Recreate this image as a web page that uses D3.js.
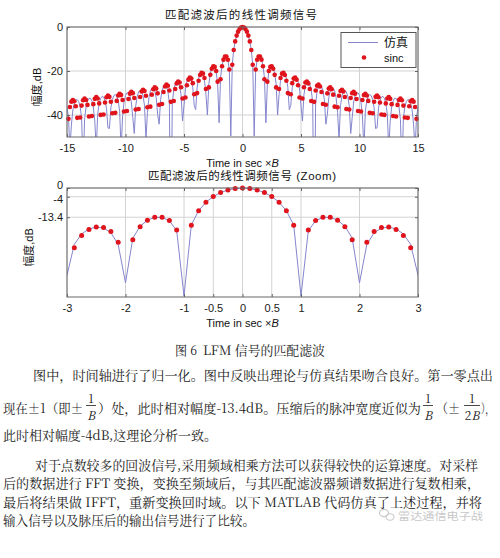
<!DOCTYPE html>
<html><head><meta charset="utf-8">
<script src="https://cdn.jsdelivr.net/npm/d3@7"></script>
<style>body{margin:0;background:#fff}svg{display:block}</style>
</head><body>
<svg id="c" width="500" height="558"></svg>
<script>
// normalized time (t × B), sample grid
const timeB = [
-15,-14.875,-14.75,-14.625,-14.5,-14.375,-14.25,-14.125,
-14,-13.875,-13.75,-13.625,-13.5,-13.375,-13.25,-13.125,
-13,-12.875,-12.75,-12.625,-12.5,-12.375,-12.25,-12.125,
-12,-11.875,-11.75,-11.625,-11.5,-11.375,-11.25,-11.125,
-11,-10.875,-10.75,-10.625,-10.5,-10.375,-10.25,-10.125,
-10,-9.875,-9.75,-9.625,-9.5,-9.375,-9.25,-9.125,
-9,-8.875,-8.75,-8.625,-8.5,-8.375,-8.25,-8.125,
-8,-7.875,-7.75,-7.625,-7.5,-7.375,-7.25,-7.125,
-7,-6.875,-6.75,-6.625,-6.5,-6.375,-6.25,-6.125,
-6,-5.875,-5.75,-5.625,-5.5,-5.375,-5.25,-5.125,
-5,-4.875,-4.75,-4.625,-4.5,-4.375,-4.25,-4.125,
-4,-3.875,-3.75,-3.625,-3.5,-3.375,-3.25,-3.125,
-3,-2.875,-2.75,-2.625,-2.5,-2.375,-2.25,-2.125,
-2,-1.875,-1.75,-1.625,-1.5,-1.375,-1.25,-1.125,
-1,-0.875,-0.75,-0.625,-0.5,-0.375,-0.25,-0.125,
0,
0.125,0.25,0.375,0.5,0.625,0.75,0.875,1,
1.125,1.25,1.375,1.5,1.625,1.75,1.875,2,
2.125,2.25,2.375,2.5,2.625,2.75,2.875,3,
3.125,3.25,3.375,3.5,3.625,3.75,3.875,4,
4.125,4.25,4.375,4.5,4.625,4.75,4.875,5,
5.125,5.25,5.375,5.5,5.625,5.75,5.875,6,
6.125,6.25,6.375,6.5,6.625,6.75,6.875,7,
7.125,7.25,7.375,7.5,7.625,7.75,7.875,8,
8.125,8.25,8.375,8.5,8.625,8.75,8.875,9,
9.125,9.25,9.375,9.5,9.625,9.75,9.875,10,
10.125,10.25,10.375,10.5,10.625,10.75,10.875,11,
11.125,11.25,11.375,11.5,11.625,11.75,11.875,12,
12.125,12.25,12.375,12.5,12.625,12.75,12.875,13,
13.125,13.25,13.375,13.5,13.625,13.75,13.875,14,
14.125,14.25,14.375,14.5,14.625,14.75,14.875,15
];
// simulated matched-filter output, dB (仿真)
const simDB = [
-36.47,-40.96,-55.50,-44.53,-37.75,-34.68,-33.25,-33.01,
-33.92,-36.28,-41.40,-66.84,-42.15,-36.34,-33.61,-32.42,
-32.40,-33.57,-36.37,-42.72,-55.57,-39.48,-34.71,-32.42,
-31.54,-31.83,-33.40,-36.91,-45.82,-46.15,-36.75,-32.97,
-31.18,-30.69,-31.38,-33.52,-38.23,-56.13,-40.34,-34.07,
-31.19,-29.94,-29.92,-31.15,-34.14,-41.26,-48.41,-35.87,
-31.53,-29.46,-28.78,-29.32,-31.30,-35.75,-51.05,-38.77,
-32.14,-29.14,-27.84,-27.79,-29.05,-32.16,-39.81,-44.17,
-33.03,-28.90,-26.95,-26.39,-27.08,-29.34,-34.56,-100,
-34.19,-28.61,-26.00,-24.96,-25.19,-26.85,-30.78,-42.75,
-35.66,-28.16,-24.86,-23.37,-23.20,-24.39,-27.53,-35.69,
-37.55,-27.34,-23.33,-21.42,-20.90,-21.70,-24.27,-30.70,
-40.02,-25.84,-21.10,-18.78,-17.92,-18.38,-20.48,-25.90,
-43.52,-23.01,-17.54,-14.75,-13.47,-13.47,-15.03,-19.59,
-49.54,-16.96,-10.40,-6.53,-3.92,-2.12,-0.92,-0.23,
0,
-0.23,-0.92,-2.12,-3.92,-6.53,-10.40,-16.96,-49.54,
-19.59,-15.03,-13.47,-13.47,-14.75,-17.54,-23.01,-43.52,
-25.90,-20.48,-18.38,-17.92,-18.78,-21.10,-25.84,-40.02,
-30.70,-24.27,-21.70,-20.90,-21.42,-23.33,-27.34,-37.55,
-35.69,-27.53,-24.39,-23.20,-23.37,-24.86,-28.16,-35.66,
-42.75,-30.78,-26.85,-25.19,-24.96,-26.00,-28.61,-34.19,
-100,-34.56,-29.34,-27.08,-26.39,-26.95,-28.90,-33.03,
-44.17,-39.81,-32.16,-29.05,-27.79,-27.84,-29.14,-32.14,
-38.77,-51.05,-35.75,-31.30,-29.32,-28.78,-29.46,-31.53,
-35.87,-48.41,-41.26,-34.14,-31.15,-29.92,-29.94,-31.19,
-34.07,-40.34,-56.13,-38.23,-33.52,-31.38,-30.69,-31.18,
-32.97,-36.75,-46.15,-45.82,-36.91,-33.40,-31.83,-31.54,
-32.42,-34.71,-39.48,-55.57,-42.72,-36.37,-33.57,-32.40,
-32.42,-33.61,-36.34,-42.15,-66.84,-41.40,-36.28,-33.92,
-33.01,-33.25,-34.68,-37.75,-44.53,-55.50,-40.96,-36.47
];
// sinc reference, dB (null where below the axis)
const sincDB = [
null,-41.74,-36.33,-33.93,-33.17,-33.78,-36.03,-41.29,
null,-41.13,-35.72,-33.32,-32.55,-33.16,-35.40,-40.65,
null,-40.48,-35.06,-32.66,-31.88,-32.48,-34.72,-39.96,
null,-39.78,-34.35,-31.94,-31.16,-31.75,-33.98,-39.21,
null,-39.02,-33.58,-31.16,-30.37,-30.95,-33.17,-38.39,
null,-38.18,-32.73,-30.30,-29.50,-30.07,-32.28,-37.49,
null,-37.25,-31.79,-29.35,-28.53,-29.09,-31.28,-36.48,
null,-36.21,-30.74,-28.28,-27.44,-27.99,-30.16,-35.34,
null,-35.03,-29.54,-27.06,-26.20,-26.72,-28.87,-34.03,
null,-33.67,-28.15,-25.63,-24.75,-25.24,-27.36,-32.48,
null,-32.05,-26.49,-23.93,-23.01,-23.45,-25.52,-30.59,
null,-30.05,-24.43,-21.82,-20.82,-21.20,-23.19,-28.18,
null,-27.46,-21.74,-19.01,-17.90,-18.14,-20.00,-24.83,
null,-23.75,-17.81,-14.85,-13.47,-13.40,-14.89,-19.31,
null,-17.13,-10.45,-6.55,-3.92,-2.11,-0.91,-0.22,
0,
-0.22,-0.91,-2.11,-3.92,-6.55,-10.45,-17.13,null,
-19.31,-14.89,-13.40,-13.47,-14.85,-17.81,-23.75,null,
-24.83,-20.00,-18.14,-17.90,-19.01,-21.74,-27.46,null,
-28.18,-23.19,-21.20,-20.82,-21.82,-24.43,-30.05,null,
-30.59,-25.52,-23.45,-23.01,-23.93,-26.49,-32.05,null,
-32.48,-27.36,-25.24,-24.75,-25.63,-28.15,-33.67,null,
-34.03,-28.87,-26.72,-26.20,-27.06,-29.54,-35.03,null,
-35.34,-30.16,-27.99,-27.44,-28.28,-30.74,-36.21,null,
-36.48,-31.28,-29.09,-28.53,-29.35,-31.79,-37.25,null,
-37.49,-32.28,-30.07,-29.50,-30.30,-32.73,-38.18,null,
-38.39,-33.17,-30.95,-30.37,-31.16,-33.58,-39.02,null,
-39.21,-33.98,-31.75,-31.16,-31.94,-34.35,-39.78,null,
-39.96,-34.72,-32.48,-31.88,-32.66,-35.06,-40.48,null,
-40.65,-35.40,-33.16,-32.55,-33.32,-35.72,-41.13,null,
-41.29,-36.03,-33.78,-33.17,-33.93,-36.33,-41.74,null
];
const topXTicks = [-15,-10,-5,0,5,10,15];
const topYTicks = [-40,-20,0];
const zoomXTicks = [-3,-2,-1,-0.5,0,0.5,1,2,3];
const zoomYTicks = [-13.4,-4,0];
const yDomain = [-50,0];
const titleTop = "匹配滤波后的线性调频信号";
const titleZoom = "匹配滤波后的线性调频信号 (Zoom)";
const yLabel = "幅度,dB";
const seriesNames = ["仿真","sinc"];

const svg = d3.select("#c");
const SANS = "'Liberation Sans', Arial, 'Noto Sans CJK SC', sans-serif";
const SERIF = "'Noto Serif CJK SC', 'Liberation Serif', 'Noto Sans CJK SC', serif";
const FRAME = "#666";
const GRID = "#d2d2d2";
const LINEC = "#8585cf";
const DOTC = "#e0141c";
const L = 67, R = 418;

function panel(cfg){
  const x = d3.scaleLinear().domain(cfg.xDomain).range([L,R]);
  const y = d3.scaleLinear().domain(yDomain).range([cfg.bottom,cfg.top]);
  const g = svg.append("g");
  const clipId = "clip"+cfg.id;
  g.append("clipPath").attr("id",clipId).append("rect")
    .attr("x",L).attr("y",cfg.top).attr("width",R-L).attr("height",cfg.bottom-cfg.top);
  // grid
  g.append("g").selectAll("line").data(cfg.xTicks).join("line")
    .attr("x1",d=>x(d)).attr("x2",d=>x(d)).attr("y1",cfg.top).attr("y2",cfg.bottom)
    .attr("stroke",GRID).attr("stroke-width",1);
  g.append("g").selectAll("line").data(cfg.yTicks).join("line")
    .attr("y1",d=>y(d)).attr("y2",d=>y(d)).attr("x1",L).attr("x2",R)
    .attr("stroke",GRID).attr("stroke-width",1);
  // data
  const idx = d3.range(timeB.length).filter(i=>timeB[i]>=cfg.xDomain[0]&&timeB[i]<=cfg.xDomain[1]);
  const line = d3.line().x(i=>x(timeB[i])).y(i=>y(simDB[i]));
  g.append("path").attr("clip-path",`url(#${clipId})`).attr("d",line(idx))
    .attr("fill","none").attr("stroke",LINEC).attr("stroke-width",1);
  g.append("g").selectAll("circle")
    .data(idx.filter(i=>sincDB[i]!==null&&sincDB[i]>=yDomain[0]))
    .join("circle").attr("cx",i=>x(timeB[i])).attr("cy",i=>y(sincDB[i]))
    .attr("r",cfg.r).attr("fill",DOTC);
  // frame
  g.append("rect").attr("x",L).attr("y",cfg.top).attr("width",R-L).attr("height",cfg.bottom-cfg.top)
    .attr("fill","none").attr("stroke",FRAME).attr("stroke-width",1);
  const fmt = d=>String(d);
  const styleAxis = a=>{a.select(".domain").remove();
    a.selectAll(".tick line").attr("stroke",FRAME);
    a.selectAll(".tick text").attr("fill","#1a1a1a").style("font-family",SANS).style("font-size","11px");};
  g.append("g").attr("transform",`translate(0,${cfg.bottom})`)
    .call(d3.axisBottom(x).tickValues(cfg.xTicks).tickFormat(fmt).tickSize(-3).tickPadding(7)).call(styleAxis);
  g.append("g").attr("transform",`translate(0,${cfg.top})`)
    .call(d3.axisTop(x).tickValues(cfg.xTicks).tickFormat("").tickSize(-3)).call(styleAxis);
  const ya = g.append("g").attr("transform",`translate(${L},0)`)
    .call(d3.axisLeft(y).tickValues(cfg.yTicks).tickFormat(fmt).tickSize(-3).tickPadding(4)).call(styleAxis);
  if(cfg.nudge){ ya.selectAll(".tick text").attr("dy",d=>d===0?"0.05em":(d===-4?"0.55em":"0.32em")); }
  g.append("g").attr("transform",`translate(${R},0)`)
    .call(d3.axisRight(y).tickValues(cfg.yTicks).tickFormat("").tickSize(-3)).call(styleAxis);
  // title
  g.append("text").attr("x",cfg.titleX).attr("y",cfg.top-8).attr("textLength",cfg.titleW)
    .attr("lengthAdjust","spacing").text(cfg.title)
    .style("font-family",SANS).style("font-size","11.5px").attr("fill","#111");
  // x label
  const xl = g.append("text").attr("x",(L+R)/2).attr("y",cfg.bottom+30).attr("text-anchor","middle")
    .style("font-family",SANS).style("font-size","11px").attr("fill","#111");
  xl.append("tspan").text("Time in sec ×");
  xl.append("tspan").attr("font-style","italic").text("B");
  // y label
  g.append("text").attr("transform",`translate(${cfg.ylabX},${(cfg.top+cfg.bottom)/2+5}) rotate(-90)`)
    .attr("text-anchor","middle").text(yLabel)
    .style("font-family",SANS).style("font-size","11px").attr("fill","#111");
  return {x,y,g};
}

panel({id:1,xDomain:[-15,15],top:27,bottom:137,xTicks:topXTicks,yTicks:topYTicks,r:2.3,
  title:titleTop,titleX:165,titleW:152,ylabX:41});
panel({id:2,xDomain:[-3,3],top:188,bottom:297,xTicks:zoomXTicks,yTicks:zoomYTicks,r:2.5,
  title:titleZoom,titleX:148,titleW:188,ylabX:33,nudge:true});

// legend
const lg = svg.append("g");
lg.append("rect").attr("x",341).attr("y",32.5).attr("width",75).attr("height",35)
  .attr("fill","#fff").attr("stroke","#555").attr("stroke-width",1);
lg.append("line").attr("x1",348).attr("x2",378).attr("y1",42.5).attr("y2",42.5)
  .attr("stroke",LINEC).attr("stroke-width",1);
lg.append("circle").attr("cx",364).attr("cy",57.5).attr("r",2.3).attr("fill",DOTC);
lg.append("text").attr("x",384).attr("y",47).text(seriesNames[0])
  .style("font-family",SANS).style("font-size","12px").attr("fill","#111");
lg.append("text").attr("x",384).attr("y",61.5).text(seriesNames[1])
  .style("font-family",SANS).style("font-size","11px").attr("fill","#111");

// caption and body text
const tx = svg.append("g").style("font-family",SERIF).style("font-size","13px").attr("fill","#1a1a1a");
function put(x,y,s,w){const t=tx.append("text").attr("x",x).attr("y",y).text(s);
  if(w) t.attr("textLength",w).attr("lengthAdjust","spacingAndGlyphs"); return t;}
function frac(cx,num,den){
  tx.append("text").attr("x",cx).attr("y",403).attr("text-anchor","middle").style("font-size","12px").text(num);
  tx.append("line").attr("x1",cx-(den.length>1?8:5)).attr("x2",cx+(den.length>1?8:5)).attr("y1",405.5).attr("y2",405.5)
    .attr("stroke","#1a1a1a").attr("stroke-width",0.8);
  const d = tx.append("text").attr("x",cx).attr("y",420).attr("text-anchor","middle").style("font-size","12px");
  if(den.length>1){d.append("tspan").text(den.slice(0,-1));}
  d.append("tspan").attr("font-style","italic").text(den.slice(-1));
}
put(175,355,"图 6",22);
put(203,355,"LFM 信号的匹配滤波",122);
put(33,380,"图中，时间轴进行了归一化。图中反映出理论与仿真结果吻合良好。第一零点出",460);
put(3,413,"现在±1（即±",80);
frac(91,"1","B");
put(98,413,"）处，此时相对幅度-13.4dB。压缩后的脉冲宽度近似为",323);
frac(428,"1","B");
put(436,413,"（±",24);
frac(472,"1","2B");
put(481,413,"），",13);
put(3,440,"此时相对幅度-4dB,这理论分析一致。",214);
put(35,470,"对于点数较多的回波信号,采用频域相乘方法可以获得较快的运算速度。对采样",443);
put(3,488,"后的数据进行 FFT 变换，变换至频域后，与其匹配滤波器频谱数据进行复数相乘，",477);
put(3,507,"最后将结果做 IFFT，重新变换回时域。以下 MATLAB 代码仿真了上述过程，并将",479);
put(3,525,"输入信号以及脉压后的输出信号进行了比较。",252);

// watermark
const wm = svg.append("g").attr("fill","none").attr("stroke","#c8c8c8").attr("stroke-width",1.1);
wm.append("ellipse").attr("cx",384).attr("cy",513).attr("rx",4.5).attr("ry",3.6);
wm.append("ellipse").attr("cx",390).attr("cy",517).attr("rx",4).attr("ry",3.2);
svg.append("text").attr("x",398).attr("y",520).attr("textLength",85).attr("lengthAdjust","spacingAndGlyphs")
  .text("雷达通信电子战").style("font-family",SANS).style("font-size","10.5px").attr("fill","#c8c8c8");
</script>
</body></html>
